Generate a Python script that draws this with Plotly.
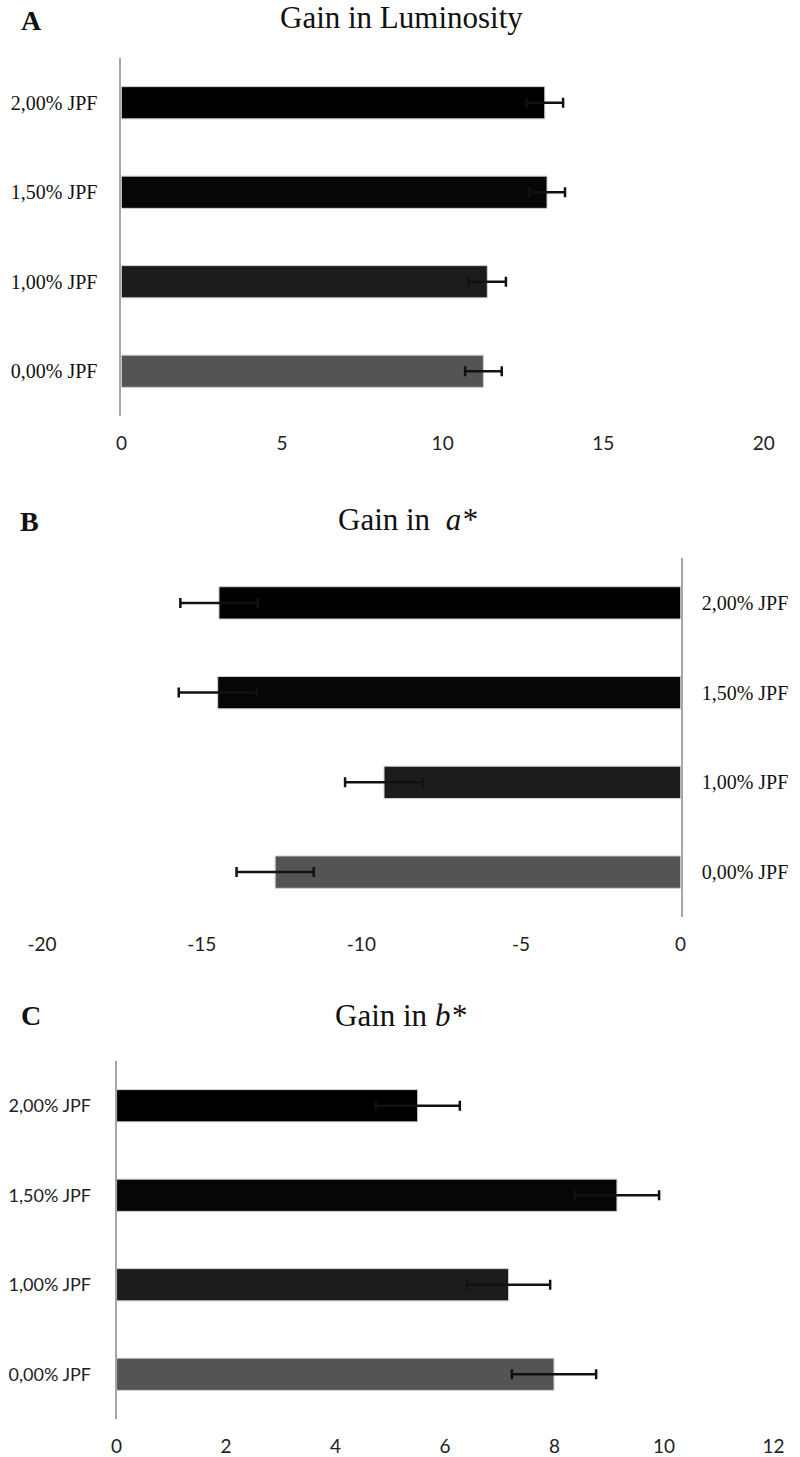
import plotly.graph_objects as go

W, H = 800, 1457

categories = ["0,00% JPF", "1,00% JPF", "1,50% JPF", "2,00% JPF"]
bar_colors = ["#545454", "#1c1c1c", "#060606", "#000000"]

lum_values = [11.27, 11.39, 13.25, 13.18]
lum_errors = [0.57, 0.58, 0.56, 0.57]

a_values = [-12.70, -9.29, -14.50, -14.46]
a_errors = [1.21, 1.22, 1.22, 1.21]

b_values = [7.99, 7.16, 9.14, 5.50]
b_errors = [0.77, 0.76, 0.77, 0.77]

lum_ticks = [0, 5, 10, 15, 20]
a_ticks = [-20, -15, -10, -5, 0]
a_tick_labels = ["-20", "-15", "-10", "-5", "0"]
b_ticks = [0, 2, 4, 6, 8, 10, 12]

SERIF = "Liberation Serif"
SANS = "Lato"


def px_x(x):
    return x / W


def px_y(y):
    return 1 - y / H


fig = go.Figure()

panels = [
    (lum_values, lum_errors, "x", "y"),
    (a_values, a_errors, "x2", "y2"),
    (b_values, b_errors, "x3", "y3"),
]
for vals, errs, xa, ya in panels:
    fig.add_trace(go.Bar(
        x=vals, y=categories, orientation="h",
        xaxis=xa, yaxis=ya, width=0.36,
        marker=dict(color=bar_colors, line=dict(color="#cfcfcf", width=1)),
        error_x=dict(type="data", array=errs, visible=True, color="#111111",
                     thickness=2.5, width=5),
        showlegend=False, hoverinfo="skip",
    ))

xcommon = dict(showgrid=False, zeroline=False, showline=False, ticks="",
               ticklabelstandoff=14, tickfont=dict(family=SANS, size=19, color="#222222"))
ycommon = dict(type="category", showgrid=False, zeroline=False, showline=True,
               linecolor="#a6a6a6", linewidth=2, ticks="",
               categoryorder="array", categoryarray=categories)

fig.update_layout(
    width=W, height=H, margin=dict(l=0, r=0, t=0, b=0),
    paper_bgcolor="white", plot_bgcolor="white",
    xaxis=dict(domain=[px_x(110), px_x(774)], range=[0, 20], tickvals=lum_ticks,
               anchor="y", **xcommon),
    yaxis=dict(domain=[px_y(416), px_y(58)], anchor="x", side="left",
               ticklabelstandoff=18,
               tickfont=dict(family=SERIF, size=20, color="#111111"), **ycommon),
    xaxis2=dict(domain=[px_x(28), px_x(688)], range=[-20, 0], tickvals=a_ticks,
                ticktext=a_tick_labels, anchor="y2", **xcommon),
    yaxis2=dict(domain=[px_y(917), px_y(558)], anchor="x2", side="right",
                ticklabelstandoff=15,
                tickfont=dict(family=SERIF, size=20, color="#111111"), **ycommon),
    xaxis3=dict(domain=[px_x(105), px_x(784)], range=[0, 12], tickvals=b_ticks,
                anchor="y3", **xcommon),
    yaxis3=dict(domain=[px_y(1419), px_y(1061)], anchor="x3", side="left",
                ticklabelstandoff=20,
                tickfont=dict(family=SANS, size=18, color="#222222"), **ycommon),
)

annots = [
    ("<b>A</b>", 17, 20, 28),
    ("<b>B</b>", 15, 521, 28),
    ("<b>C</b>", 17, 1016, 28),
    ("Gain in  <i>a*</i>", 406, 519, 31),
    ("Gain in <i>b*</i>", 398, 1016, 31),
]
for text, x, y, size in annots:
    fig.add_annotation(text=text, x=px_x(x), y=px_y(y), xref="paper", yref="paper",
                       xanchor="center", yanchor="middle", showarrow=False,
                       font=dict(family=SERIF, size=size, color="#111111"))

fig.add_annotation(text="Gain in Luminosity", x=px_x(399), y=1, xref="paper", yref="paper",
                   xanchor="center", yanchor="top", showarrow=False, yshift=2,
                   font=dict(family=SERIF, size=31, color="#111111"))

fig.write_html("out.html")
